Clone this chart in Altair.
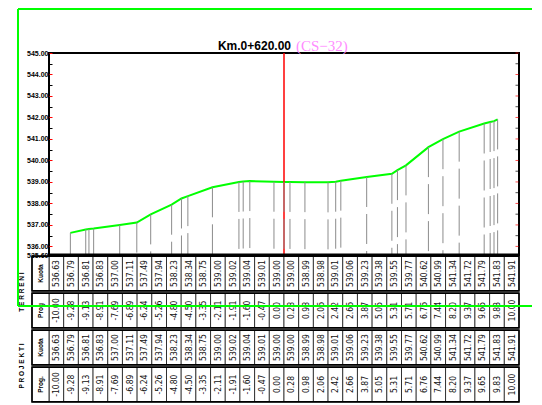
import altair as alt
import pandas as pd

# ---------------- data ----------------
PROG = [-10.00, -9.28, -9.13, -8.91, -7.69, -6.89, -6.24, -5.26, -4.80, -4.50,
        -3.35, -2.11, -1.91, -1.60, -0.47, 0.00, 0.28, 0.98, 2.06, 2.42,
        2.66, 3.87, 5.05, 5.31, 5.71, 6.76, 7.44, 8.20, 9.37, 9.65, 9.83, 10.00]
KUOTA = [536.63, 536.79, 536.81, 536.83, 537.00, 537.11, 537.49, 537.94, 538.23, 538.34,
         538.75, 539.00, 539.02, 539.04, 539.01, 539.00, 539.00, 538.99, 538.98, 539.01,
         539.06, 539.23, 539.38, 539.55, 539.77, 540.62, 540.99, 541.34, 541.72, 541.79,
         541.83, 541.91]
ROW_LABELS = ["Kuota", "Prog", "Kuota", "Prog."]
GROUP_LABELS = ["T  E  R  R  E  N  I", "P  R  O  J  E  K  T  I"]
TITLE_KM = "Km.0+620.00"
TITLE_CS = "(CS\u221232)"
Y_MIN, Y_MAX = 535.6, 545.0
X_MIN, X_MAX = -11.0, 11.0
TICK_VALUES = [Y_MIN] + [536 + 0.5 * k for k in range(19)]

# ---------------- layout constants (pixels -> data units) ----------------
W, H = 470, 202
N = len(PROG)
PX_X = W / (X_MAX - X_MIN)
PX_Y = H / (Y_MAX - Y_MIN)
COL_W = (X_MAX - X_MIN) / N
ROW_H = 37 / PX_Y
LABEL_W = 17 / PX_X
GROUP_X = X_MIN - 27 / PX_X
GAP = 0.03

profile = pd.DataFrame({"prog": PROG, "kuota": KUOTA})


def row_span(j):
    return Y_MIN - (j + GAP) * ROW_H, Y_MIN - (j + 1 - GAP) * ROW_H


cells = []
for j in range(4):
    y0, y1 = row_span(j)
    for i, (p, k) in enumerate(zip(PROG, KUOTA)):
        txt = f"{k:.2f}" if j % 2 == 0 else f"{p:.2f}"
        x0 = X_MIN + i * COL_W
        cells.append(dict(x0=x0, x1=x0 + COL_W, y0=y0, y1=y1,
                          xc=x0 + COL_W / 2, yc=(y0 + y1) / 2, txt=txt))
cells = pd.DataFrame(cells)

frames, labels = [], []
for j in range(4):
    y0, y1 = row_span(j)
    frames.append(dict(x0=X_MIN - LABEL_W, x1=X_MAX, y0=y0, y1=y1))
    labels.append(dict(x0=X_MIN - LABEL_W, x1=X_MIN, y0=y0, y1=y1,
                       xc=X_MIN - LABEL_W / 2, yc=(y0 + y1) / 2, txt=ROW_LABELS[j]))
frames = pd.DataFrame(frames)
labels = pd.DataFrame(labels)
groups = pd.DataFrame([dict(xc=GROUP_X, yc=Y_MIN - (1 + 2 * g) * ROW_H, txt=GROUP_LABELS[g])
                       for g in range(2)])
ticks = pd.DataFrame({"v": TICK_VALUES,
                      "major": [abs(v - round(v)) < 0.01 for v in TICK_VALUES]})

# ---------------- scales / axis ----------------
xs = alt.Scale(domain=[X_MIN, X_MAX], nice=False, zero=False)
ys = alt.Scale(domain=[Y_MIN, Y_MAX], nice=False, zero=False)
is_major = "abs(datum.value - round(datum.value)) < 0.01"
left_axis = alt.Axis(orient="left", values=TICK_VALUES,
                     labelExpr=f"({is_major}) || datum.value < 535.7 ? format(datum.value, '.2f') : ''",
                     tickColor={"condition": {"test": is_major, "value": "red"}, "value": "black"},
                     tickSize=3, offset=-3, domain=False, grid=False, zindex=1,
                     title=None, labelFont="Liberation Sans", labelFontWeight="bold",
                     labelFontSize=7, labelPadding=1, labelColor="black",
                     labelOverlap=False, labelFlush=False, labelBound=False)


def X(field):
    return alt.X(field, scale=xs, axis=None)


def Y(field):
    return alt.Y(field, scale=ys, axis=left_axis)


one = pd.DataFrame({"v": [0]})

verticals = alt.Chart(profile).mark_rule(color="#8c8c8c", strokeWidth=1, strokeDash=[30, 7]).encode(
    x=X("prog:Q"), y=Y("kuota:Q"), y2=alt.datum(Y_MIN))
line = alt.Chart(profile).mark_line(color="#00ff00", strokeWidth=2).encode(
    x=X("prog:Q"), y=Y("kuota:Q"))
red = alt.Chart(one).mark_rule(color="red", strokeWidth=1.5).encode(
    x=alt.X(datum=0, scale=xs, axis=None))
bottom = alt.Chart(one).mark_rule(color="black", strokeWidth=3).encode(
    y=alt.Y(datum=Y_MIN, scale=ys, axis=left_axis))
right_ticks = alt.Chart(ticks).mark_tick(orient="horizontal", size=3, thickness=1, xOffset=-2).encode(
    x=alt.X(datum=X_MAX, scale=xs, axis=None), y=Y("v:Q"),
    color=alt.condition("datum.major", alt.value("red"), alt.value("black")))
t_km = alt.Chart(one).mark_text(text=TITLE_KM, align="right", baseline="alphabetic",
                                font="Liberation Sans", fontWeight="bold", fontSize=12,
                                dx=7, dy=-3, color="black").encode(
    x=alt.X(datum=0, scale=xs, axis=None), y=alt.Y(datum=Y_MAX, scale=ys, axis=left_axis))
t_cs = alt.Chart(one).mark_text(text=TITLE_CS, align="left", baseline="alphabetic",
                                font="Liberation Serif", fontSize=15,
                                dx=12, dy=-2, color="#ff8cff").encode(
    x=alt.X(datum=0, scale=xs, axis=None), y=alt.Y(datum=Y_MAX, scale=ys, axis=left_axis))

# ---------------- table ----------------
cell_rects = alt.Chart(cells).mark_rect(fill="white", stroke="black", strokeWidth=0.7).encode(
    x=X("x0:Q"), x2="x1:Q", y=Y("y0:Q"), y2="y1:Q")
cell_text = alt.Chart(cells).mark_text(angle=270, font="Liberation Sans Narrow, DejaVu Sans Condensed",
                                       fontSize=8.5, color="#111").encode(
    x=X("xc:Q"), y=Y("yc:Q"), text="txt:N")
label_rects = alt.Chart(labels).mark_rect(fill="white", stroke="black", strokeWidth=0.8).encode(
    x=X("x0:Q"), x2="x1:Q", y=Y("y0:Q"), y2="y1:Q")
label_text = alt.Chart(labels).mark_text(angle=270, font="Liberation Sans", fontWeight="bold",
                                         fontSize=6.5, color="black").encode(
    x=X("xc:Q"), y=Y("yc:Q"), text="txt:N")
frame_rects = alt.Chart(frames).mark_rect(filled=False, stroke="black", strokeWidth=1.6).encode(
    x=X("x0:Q"), x2="x1:Q", y=Y("y0:Q"), y2="y1:Q")
group_text = alt.Chart(groups).mark_text(angle=270, font="Liberation Sans", fontWeight="bold",
                                         fontSize=6.5, color="black").encode(
    x=X("xc:Q"), y=Y("yc:Q"), text="txt:N")

# ---------------- green frame ----------------
g = "#00ff00"
green_v = alt.Chart(one).mark_rule(color=g, strokeWidth=2).encode(
    x=alt.value(-31), y=alt.value(-44), y2=alt.value(253))
green_t = alt.Chart(one).mark_rule(color=g, strokeWidth=2).encode(
    x=alt.value(-31), x2=alt.value(483), y=alt.value(-44))
green_b = alt.Chart(one).mark_rule(color=g, strokeWidth=2).encode(
    x=alt.value(-31), x2=alt.value(483), y=alt.value(253))

chart = alt.layer(
    line, red, verticals, bottom, right_ticks, t_km, t_cs,
    cell_rects, label_rects, cell_text, label_text, frame_rects, group_text,
    green_v, green_t, green_b,
).properties(
    width=W, height=H, padding={"left": 9, "top": 0, "right": 0, "bottom": 0},
    background="white",
).configure_view(stroke="black", strokeWidth=2)

chart.save("out.html", embed_options={"renderer": "svg", "actions": False})
